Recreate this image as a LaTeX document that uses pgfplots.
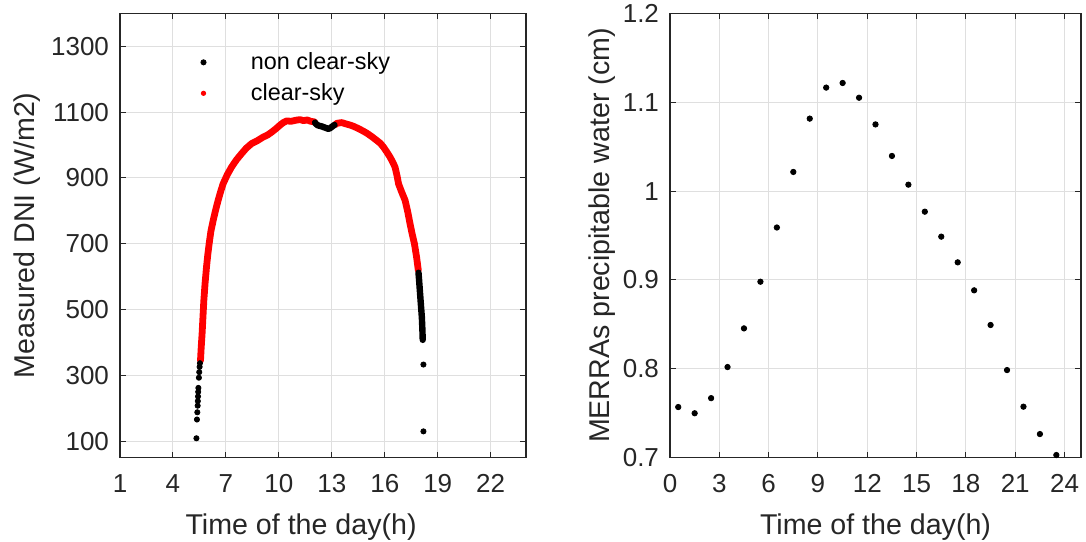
\documentclass[border=0pt]{standalone}
\usepackage{fontspec}
\setmainfont{Liberation Sans}
\usepackage{pgfplots}
\pgfplotsset{compat=1.18}
\definecolor{axgray}{RGB}{38,38,38}
\definecolor{gridgray}{RGB}{223,223,223}
\pgfplotsset{
  mystyle/.style={
    scale only axis,
    anchor=south west,
    grid=major,
    major grid style={gridgray, line width=0.5pt},
    axis line style={axgray, line width=0.6pt},
    tick style={axgray, line width=0.5pt},
    major tick length=3pt,
    tick align=inside,
    scaled ticks=false,
    /pgf/number format/assume math mode=true,
    /pgf/number format/1000 sep={},
    ticklabel style={font=\fontsize{13}{15}\selectfont, text=axgray},
    xticklabel style={yshift=-5pt},
    yticklabel style={xshift=-2pt},
    label style={font=\fontsize{14.3}{17}\selectfont, text=axgray},
  },
  mylegend/.style={legend image code/.code={%
      \draw[##1] plot coordinates {(0pt,0pt)};
      \path (-4pt,0pt) (21.5pt,0pt);}},
}
\begin{document}
\begin{tikzpicture}
\useasboundingbox (0,0) rectangle (543pt,270.5pt);
\begin{axis}[mystyle,
  at={(60pt,41.65pt)},
  width=203pt, height=222.2pt,
  xmin=1, xmax=24, ymin=50, ymax=1400,
  xtick={1,4,...,22}, ytick={100,300,...,1300},
  xlabel={Time of the day(h)},
  ylabel={Measured DNI (W/m2)},
  xlabel style={at={(axis description cs:0.446,0)}, anchor=base, yshift=-38.2pt},
  ylabel style={at={(axis description cs:-0.2094,0.5)}, anchor=base},
  legend cell align=left,
  legend style={draw=none, fill=none, at={(rel axis cs:0.184,0.922)}, anchor=north west,
    inner sep=0pt, font=\fontsize{11.7}{14}\selectfont, nodes={inner sep=2pt, text=black},
    row sep=1.5pt},
]
\addlegendimage{only marks, mark=*, mark size=1.3pt, black, mylegend}
\addlegendentry{non clear-sky}
\addlegendimage{only marks, mark=*, mark size=1.1pt, red, mylegend}
\addlegendentry{clear-sky}

% non clear-sky, morning
\addplot[only marks, mark=*, mark size=1.3pt, black, forget plot] coordinates {
(5.33,109) (5.36,166) (5.38,188) (5.40,208) (5.41,222) (5.42,236) (5.43,250)
(5.44,262) (5.47,293) (5.49,310) (5.51,326) (5.53,337)
};
% clear-sky, morning to noon
\addplot[red, line width=3.4pt, line cap=round, line join=round, forget plot] coordinates {
(5.56,345) (5.60,385) (5.65,426) (5.70,478) (5.75,528) (5.82,580) (5.90,629)
(5.97,665) (6.05,700) (6.15,738) (6.28,771) (6.42,803) (6.56,832) (6.70,858)
(6.84,882) (7.08,910) (7.32,933) (7.60,955) (7.89,974) (8.15,990) (8.45,1004)
(8.75,1012) (9.11,1024) (9.35,1030) (9.59,1039) (9.85,1050) (10.06,1060)
(10.25,1068) (10.43,1073) (10.70,1072) (10.95,1075) (11.19,1077) (11.40,1074)
(11.60,1076) (11.80,1072) (12.02,1070)
};
% clear-sky, afternoon
\addplot[red, line width=3.4pt, line cap=round, line join=round, forget plot] coordinates {
(13.20,1062) (13.30,1066) (13.56,1068) (13.80,1064) (14.00,1061) (14.22,1057)
(14.50,1050) (14.75,1043) (14.98,1036) (15.25,1026) (15.54,1014) (15.75,1005)
(15.92,994) (16.10,980) (16.30,963) (16.45,948) (16.58,933) (16.70,905)
(16.78,882) (16.95,858) (17.15,832) (17.30,797) (17.43,761) (17.55,730)
(17.68,700) (17.80,660) (17.90,619)
};
% non clear-sky, noon dip
\addplot[black, line width=3.2pt, line cap=round, line join=round, forget plot] coordinates {
(12.05,1068) (12.1,1064) (12.2,1060) (12.3,1058) (12.4,1057) (12.5,1055)
(12.6,1053) (12.7,1051) (12.8,1049) (12.9,1051) (13.0,1055) (13.1,1059) (13.15,1061)
};
% non clear-sky, evening
\addplot[black, line width=3.2pt, line cap=round, line join=round, forget plot] coordinates {
(17.91,612) (17.95,585) (18.00,548) (18.05,512) (18.10,477) (18.13,440) (18.15,408)
};
\addplot[only marks, mark=*, mark size=1.3pt, black, forget plot] coordinates {
(18.19,333) (18.19,130)
};
\end{axis}

\begin{axis}[mystyle,
  at={(335pt,41.65pt)},
  width=205.5pt, height=222.2pt,
  xmin=0, xmax=25, ymin=0.7, ymax=1.2,
  xtick={0,3,...,24}, ytick={0.7,0.8,0.9,1,1.1,1.2},
  xlabel={Time of the day(h)},
  ylabel={MERRAs precipitable water (cm)},
  xlabel style={at={(axis description cs:0.5,0)}, anchor=base, yshift=-38.2pt},
  ylabel style={at={(axis description cs:-0.148,0.5)}, anchor=base},
  clip=false,
]
\addplot[only marks, mark=*, mark size=1.35pt, black] coordinates {
(0.5,0.757) (1.5,0.750) (2.5,0.767) (3.5,0.802) (4.5,0.8455) (5.5,0.898)
(6.5,0.959) (7.5,1.0215) (8.5,1.0815) (9.5,1.1164) (10.5,1.1216) (11.5,1.105)
(12.5,1.075) (13.5,1.0395) (14.5,1.0072) (15.5,0.9768) (16.5,0.9487) (17.5,0.9198)
(18.5,0.8883) (19.5,0.8493) (20.5,0.7986) (21.5,0.7574) (22.5,0.7266) (23.5,0.703)
};
\end{axis}
\end{tikzpicture}
\end{document}
